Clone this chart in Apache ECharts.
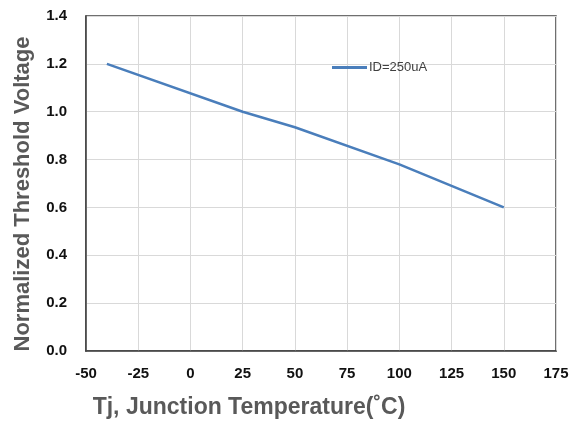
<!DOCTYPE html>
<html>
<head>
<meta charset="utf-8">
<script src="https://cdn.jsdelivr.net/npm/echarts@6/dist/echarts.min.js"></script>
<style>html,body{margin:0;padding:0;background:#fff}#c{width:582px;height:426px}</style>
</head>
<body>
<div id="c"></div>
<script>
var temps = [-40, 25, 50, 100, 150];
var vth = [1.2, 1.0, 0.935, 0.78, 0.6];
var seriesName = 'ID=250uA';
var xTitle = 'Tj, Junction Temperature(\u02DAC)';
var yTitle = 'Normalized Threshold Voltage';

var chart = echarts.init(document.getElementById('c'), null, {renderer: 'canvas'});
var font = '"Liberation Sans", Arial, sans-serif';
chart.setOption({
  backgroundColor: '#fff',
  animation: false,
  grid: {left: 86, right: 26, top: 16, bottom: 75, show: true, borderColor: '#404040', borderWidth: 1.5},
  legend: {
    left: 327, top: 56, itemWidth: 35, itemHeight: 3, itemGap: 0, icon: 'rect',
    textStyle: {fontFamily: font, fontSize: 13, color: '#404040', padding: [0, 0, 0, -3]},
    data: [{name: seriesName}]
  },
  xAxis: {
    type: 'value', min: -50, max: 175, interval: 25,
    axisLine: {show: true, onZero: false, lineStyle: {color: '#404040', width: 1.5}},
    axisTick: {show: false},
    axisLabel: {fontFamily: font, fontSize: 15, fontWeight: 'bold', color: '#111', margin: 15},
    splitLine: {show: true, lineStyle: {color: '#d9d9d9', width: 1}}
  },
  yAxis: {
    type: 'value', min: 0, max: 1.4, interval: 0.2,
    axisLine: {show: true, onZero: false, lineStyle: {color: '#404040', width: 1.5}},
    axisTick: {show: false},
    axisLabel: {fontFamily: font, fontSize: 15, fontWeight: 'bold', color: '#111', margin: 19,
      formatter: function (v) { return v.toFixed(1); }},
    splitLine: {show: true, lineStyle: {color: '#d9d9d9', width: 1}}
  },
  graphic: [{
    type: 'text', x: 23, y: 194, rotation: Math.PI / 2,
    style: {text: yTitle, font: 'bold 22px ' + font, fill: '#595959', align: 'center', verticalAlign: 'middle'}
  }, {
    type: 'text', x: 249, y: 408,
    style: {text: xTitle, font: 'bold 23px ' + font, fill: '#595959', align: 'center', verticalAlign: 'middle'}
  }],
  series: [{
    name: seriesName, type: 'line', symbol: 'none',
    data: temps.map(function (t, i) { return [t, vth[i]]; }),
    lineStyle: {color: '#4a7ebb', width: 2.5},
    itemStyle: {color: '#4a7ebb'}
  }]
});
</script>
</body>
</html>
